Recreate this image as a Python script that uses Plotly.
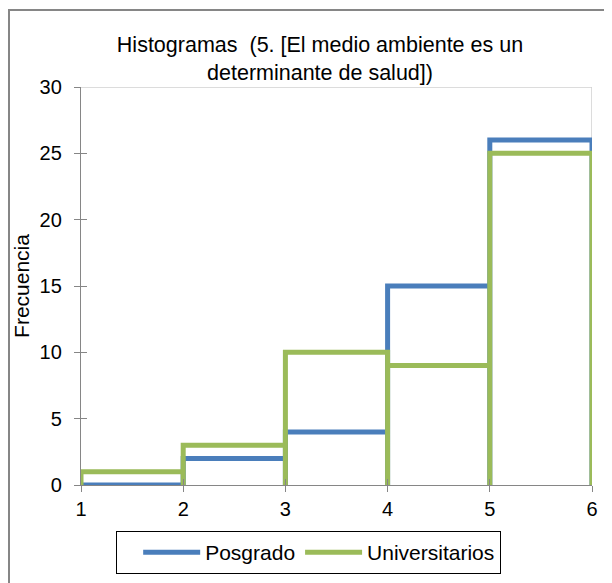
import plotly.graph_objects as go

bin_edges = [1, 2, 3, 4, 5, 6]
posgrado = [0, 2, 4, 15, 26]
universitarios = [1, 3, 10, 9, 25]
y_ticks = [0, 5, 10, 15, 20, 25, 30]
x_ticks = [1, 2, 3, 4, 5, 6]

def outline(edges, vals):
    xs, ys = [], []
    for i, v in enumerate(vals):
        x0, x1 = edges[i], edges[i + 1]
        xs += [x0, x0, x1, x1]
        ys += [0, v, v, 0]
    return xs, ys

# the page body adds an 8px offset, so the layout is shifted by -8px
L, T, R, B = 73, 79, 584, 477
W, H = 612, 583
PW, PH = R - L, B - T

fig = go.Figure()
px_, py_ = outline(bin_edges, posgrado)
ux_, uy_ = outline(bin_edges, universitarios)
fig.add_trace(go.Scatter(x=px_, y=py_, mode="lines", name="Posgrado",
                         line=dict(color="#4A7EBB", width=5), cliponaxis=False))
fig.add_trace(go.Scatter(x=ux_, y=uy_, mode="lines", name="Universitarios",
                         line=dict(color="#9BBB59", width=5), cliponaxis=False))
fig.add_trace(go.Scatter(x=[1], y=[0], xaxis="x2", yaxis="y2", mode="markers",
                         marker=dict(opacity=0), showlegend=False, hoverinfo="skip"))

axcol = "#868686"
FAM = "Liberation Sans, Arial, sans-serif"
tickfont = dict(family=FAM, size=20, color="black")
fig.update_layout(
    width=W, height=H,
    margin=dict(l=L, r=W - R, t=T, b=H - B, autoexpand=False),
    paper_bgcolor="white", plot_bgcolor="white",
    font=dict(family=FAM, size=20, color="black"),
    title=dict(text="Histogramas  (5. [El medio ambiente es un<br>determinante de salud])",
               x=312 / W, xref="container", xanchor="center",
               y=1 - 44 / H, yref="container", yanchor="middle",
               font=dict(family=FAM, size=21.5, color="black")),
    xaxis=dict(range=[1, 6], tickvals=x_ticks, showgrid=False, zeroline=False,
               showline=True, linecolor=axcol, linewidth=1.3,
               ticks="outside", ticklen=6, tickcolor=axcol, tickfont=tickfont),
    yaxis=dict(range=[0, 30], tickvals=y_ticks, showgrid=False, zeroline=False,
               showline=True, linecolor=axcol, linewidth=1.3,
               ticks="outside", ticklen=6, tickcolor=axcol, tickfont=tickfont,
               ticklabelstandoff=8,
               title=dict(text="Frecuencia", font=dict(family=FAM, size=21), standoff=4)),
    xaxis2=dict(range=[1, 6], tickvals=x_ticks, overlaying="x", showticklabels=False,
                showgrid=False, zeroline=False, ticks="inside", ticklen=6, tickcolor=axcol),
    yaxis2=dict(range=[0, 30], tickvals=y_ticks, overlaying="y", showticklabels=False,
                showgrid=False, zeroline=False, ticks="inside", ticklen=6, tickcolor=axcol),
    legend=dict(orientation="h", x=300 / W, xref="container", xanchor="center",
                y=1 - 544.5 / H, yref="container", yanchor="middle",
                bordercolor="black", borderwidth=1,
                font=dict(family=FAM, size=21, color="black"),
                title=dict(text="\u00a0\u00a0", font=dict(family=FAM, size=21)),
                itemwidth=57),
    shapes=[
        dict(type="line", xref="x", yref="y", x0=1, x1=6, y0=30, y1=30,
             line=dict(color="#D0D0D0", width=1.5), layer="below"),
        dict(type="line", xref="x", yref="y", x0=6, x1=6, y0=0, y1=30,
             line=dict(color="#D0D0D0", width=1.5), layer="below"),
        dict(type="rect", xref="paper", yref="paper",
             x0=(1 - L) / PW, x1=(W + 40 - L) / PW,
             y0=-(H + 40 - B) / PH, y1=(B - 2) / PH,
             line=dict(color="#868686", width=2), layer="below"),
    ],
)
fig.write_html("out.html")
